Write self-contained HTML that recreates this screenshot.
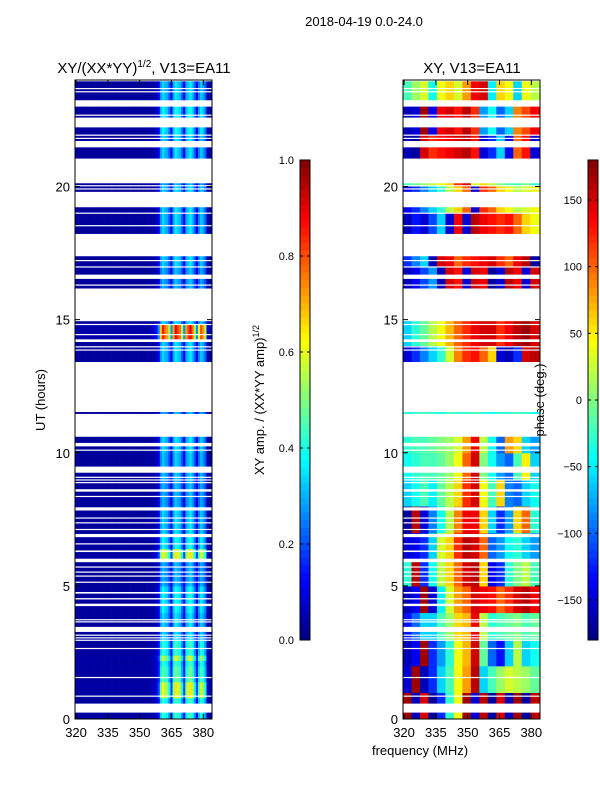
<!DOCTYPE html>
<html><head><meta charset="utf-8">
<style>
html,body{margin:0;padding:0;background:#fff;}
svg{display:block;font-family:"Liberation Sans","DejaVu Sans",sans-serif;}
</style></head>
<body>
<svg id="fig" width="600" height="800" viewBox="0 0 600 800" xmlns="http://www.w3.org/2000/svg">
<text x="364" y="26" font-size="13" text-anchor="middle">2018-04-19 0.0-24.0</text>
<text x="144" y="73" font-size="15" text-anchor="middle">XY/(XX*YY)<tspan font-size="10" dy="-6">1/2</tspan><tspan dy="6">, V13=EA11</tspan></text>
<text x="472" y="73" font-size="15" text-anchor="middle">XY, V13=EA11</text>
<text x="420" y="755" font-size="13" text-anchor="middle">frequency (MHz)</text>
<text transform="translate(45,400) rotate(-90)" font-size="13" text-anchor="middle">UT (hours)</text>
<text transform="translate(264,400) rotate(-90)" font-size="13" text-anchor="middle">XY amp. / (XX*YY amp)<tspan font-size="9" dy="-5">1/2</tspan></text>
<text transform="translate(544,400) rotate(-90)" font-size="13" text-anchor="middle">phase (deg.)</text>
<g id="left"></g>
<g id="right"></g>
<g id="cb"></g>
</svg>
<script>
// ---- data ----
const dataBands=[[0,0.24],[0.59,10.6],[11.47,11.53],[13.42,14.94],[16.18,17.38],[18.23,19.22],[19.81,20.12],[21.06,21.47],[21.72,22.22],[22.6,23.0],[23.25,23.95]];
const gapLines=[[10.24,10.37],[10.08,10.12],[9.25,9.48],[9.06,9.1],[8.96,9.0],[8.86,8.9],[8.54,8.63],[8.34,8.38],[7.83,7.95],[7.53,7.57],[7.35,7.39],[7.1,7.14],[6.83,6.95],[6.56,6.6],[6.27,6.33],[5.89,6.02],[5.69,5.73],[5.5,5.54],[5.35,5.39],[5.12,5.16],[4.71,4.77],[4.49,4.54],[4.24,4.33],[3.71,3.75],[3.63,3.67],[3.27,3.46],[3.13,3.17],[3.03,3.07],[2.94,2.98],[2.63,2.67],[1.54,1.58],[0.84,0.88],[23.66,23.7],[23.54,23.58],[22.66,22.7],[21.91,21.95],[21.79,21.83],[20.02,20.05],[19.9,19.93],[18.98,19.02],[18.51,18.55],[17.2,17.24],[16.96,17.0],[16.53,16.69],[16.28,16.32],[14.8,14.84],[14.42,14.46],[14.16,14.26],[13.96,14.0],[13.84,13.88]];
const freqs=[];for(let f=320;f<=384;f++)freqs.push(f);
const chanGain=[0.02,0.02,0.03,0.02,0.02,0.03,0.02,0.02,0.03,0.02,0.02,0.03,0.02,0.02,0.03,0.02,0.02,0.03,0.02,0.02,0.03,0.02,0.02,0.03,0.02,0.02,0.03,0.02,0.02,0.03,0.02,0.02,0.03,0.02,0.02,0.04,0.05,0.1,0.15,0.3,0.75,0.95,0.85,0.8,0.6,0.3,0.8,1.0,0.9,0.85,0.6,0.3,0.8,0.9,1.0,0.85,0.6,0.3,0.7,0.9,0.8,0.6,0.1,0.05,0.02];
const ampHourLevel=[0.45,0.5,0.45,0.36,0.4,0.32,0.4,0.36,0.32,0.34,0.36,0.32,0.32,0.36,0.36,0.32,0.32,0.36,0.36,0.36,0.32,0.36,0.4,0.36];
const hotBands=[[14.3,14.9,0.9],[6.05,6.3,0.65],[0.8,1.35,0.65],[2.1,2.3,0.6],[3.75,3.85,0.55]];
const phaseGrid=[
[170,-160,150,-170,-120,-30,40,170,-150,160,-170,150,-160,170,-170,160],
[-150,170,-160,-120,-60,-20,40,80,160,-60,-20,10,30,20,10,-10],
[-160,-140,170,-120,-80,-30,40,70,150,-10,-100,-130,-60,20,-60,-40],
[-130,-100,-60,-60,-20,10,60,70,140,20,-30,-20,-10,0,-20,-10],
[-160,-140,170,-150,-50,30,80,100,150,140,130,100,120,150,160,140],
[-30,160,-120,-40,20,60,100,150,160,60,-140,-120,-30,0,20,-20],
[-150,-140,-120,-60,30,60,120,160,150,100,-100,-80,-40,-30,-60,-80],
[-170,160,-150,-90,-40,20,90,140,140,60,-60,-120,-80,60,100,-30],
[-60,-40,-20,-50,-10,20,60,120,150,40,-20,60,-90,-100,-60,-40],
[-40,-30,-20,-20,-10,10,40,100,150,0,-40,-80,-100,-20,50,-60],
[-30,-20,-20,-10,0,10,30,80,140,20,-40,-100,80,60,-60,-80],
[-30,-30,-20,-30,-40,-20,-30,-30,-20,-30,-40,-30,-30,-20,-30,-40],
[0,0,0,0,0,0,0,0,0,0,0,0,0,0,0,0],
[-150,-120,-90,-60,-30,30,90,120,130,100,60,-150,-160,-120,150,160],
[-60,-30,-10,20,40,70,100,120,140,150,150,120,140,160,170,150],
[-60,-30,-10,20,40,70,100,120,140,150,150,120,140,160,170,150],
[-160,-140,-110,-80,-160,150,130,-150,150,140,-170,-150,160,140,-150,150],
[-120,-90,-60,-160,150,140,100,120,130,140,150,120,100,140,160,-170],
[-160,-130,-150,-110,-60,-150,140,-150,160,140,130,120,130,100,60,40],
[-140,-120,-90,-60,-30,20,60,100,-150,120,100,60,40,20,30,40],
[-20,-10,10,20,40,60,120,150,30,60,20,0,-20,-20,0,-30],
[-160,-170,150,120,130,140,150,160,130,-150,-120,-60,-140,100,130,-150],
[-160,-150,170,-140,140,150,130,160,120,-80,-40,-100,-60,90,110,140],
[-20,10,30,-40,40,60,30,80,140,150,-50,60,40,-60,40,20]];
const yTicks=[0,5,10,15,20];
const xTicks=[320,335,350,365,380];
const ampTicks=[0.0,0.2,0.4,0.6,0.8,1.0];
const phaseTicks=[-150,-100,-50,0,50,100,150];
// ---- helpers ----
const NS="http://www.w3.org/2000/svg";
function jet(v){v=Math.max(0,Math.min(1,v));const c=x=>Math.round(255*Math.max(0,Math.min(1,1.5-Math.abs(x))));return `rgb(${c(4*v-3)},${c(4*v-2)},${c(4*v-1)})`;}
const Y0=719,Y1=80,XMIN=319.5,XMAX=384.1,W=137;
const yS=h=>Y0-(h/24)*(Y0-Y1);
function xS(left,f){return left+(f-XMIN)/(XMAX-XMIN)*W;}
function mk(tag,attrs,parent){const e=document.createElementNS(NS,tag);for(const k in attrs)e.setAttribute(k,attrs[k]);parent.appendChild(e);return e;}
function ampValue(h,ci){let lvl=ampHourLevel[Math.min(23,Math.floor(h))];for(const b of hotBands){if(h>=b[0]&&h<b[1])lvl=b[2];}return chanGain[ci]*lvl+(chanGain[ci]<0.1?0.02:0);}
function phaseValue(h,ci){const r=phaseGrid[Math.min(23,Math.floor(h))];return r[Math.min(15,Math.floor((freqs[ci]-320)/4))];}
function drawPanel(g,left,valFn,norm,label){
  const step=0.2;
  for(const b of dataBands){
    for(let t=b[0];t<b[1]-1e-6;t+=step){
      const t2=Math.min(b[1],t+step);
      const ya=yS(t2),yb=yS(t);
      for(let ci=0;ci<freqs.length;ci++){
        const f=freqs[ci];
        const xa=xS(left,f-0.5),xb=Math.min(left+W,xS(left,f+0.5));
        if(xb<=left)continue;
        const v=valFn(t+step/2,ci);
        const r=mk('rect',{x:Math.max(left,xa).toFixed(2),y:ya.toFixed(2),width:(xb-Math.max(left,xa)+0.3).toFixed(2),height:(yb-ya+0.3).toFixed(2),fill:jet(norm(v))},g);
        
        
      }
    }
  }
  for(const gl of gapLines){
    const r=mk('rect',{x:left,y:yS(gl[1]).toFixed(2),width:W,height:Math.max(1.2,yS(gl[0])-yS(gl[1])).toFixed(2),fill:'#fff'},g);
    
    
  }
  const fr=mk('rect',{x:left,y:Y1,width:W,height:Y0-Y1,fill:'none',stroke:'#000','stroke-width':1},g);
  
  
  for(const t of yTicks){
    const y=yS(t);
    mk('line',{x1:left,x2:left+5,y1:y,y2:y,stroke:'#000'},g);
    mk('line',{x1:left+W,x2:left+W-5,y1:y,y2:y,stroke:'#000'},g);
    const tx=mk('text',{x:left-5,y:y+5,'font-size':13,'text-anchor':'end'},g);tx.textContent=t;
    
    
  }
  for(const t of xTicks){
    const x=xS(left,t);
    mk('line',{x1:x,x2:x,y1:Y0,y2:Y0-5,stroke:'#000'},g);
    mk('line',{x1:x,x2:x,y1:Y1,y2:Y1+5,stroke:'#000'},g);
    const tx=mk('text',{x:x,y:737,'font-size':13,'text-anchor':'middle'},g);tx.textContent=t;
    
    
  }
}
drawPanel(document.getElementById('left'),75,ampValue,v=>v,'amp');
drawPanel(document.getElementById('right'),403,phaseValue,v=>(v+180)/360,'phase');
// colorbars
function colorbar(x,ticks,vmin,vmax,label,fmt){
  const g=document.getElementById('cb');
  const top=160,bot=640,n=64;
  for(let i=0;i<n;i++){
    const r=mk('rect',{x:x,y:(bot-(i+1)*(bot-top)/n).toFixed(2),width:10,height:((bot-top)/n+0.4).toFixed(2),fill:jet((i+0.5)/n)},g);
    
    
  }
  const fr=mk('rect',{x:x,y:top,width:10,height:bot-top,fill:'none',stroke:'#000','stroke-width':1},g);
  
  
  for(const t of ticks){
    const y=bot-(t-vmin)/(vmax-vmin)*(bot-top);
    mk('line',{x1:x,x2:x+3,y1:y,y2:y,stroke:'#000'},g);
    mk('line',{x1:x+10,x2:x+7,y1:y,y2:y,stroke:'#000'},g);
    const tx=mk('text',{x:x-6,y:y+4,'font-size':11,'text-anchor':'end'},g);
    tx.textContent=fmt(t);
    
    
  }
}
colorbar(300,ampTicks,0,1,'amp',t=>t.toFixed(1));
colorbar(588,phaseTicks,-180,180,'phase',t=>t<0?'\u2212'+(-t):String(t));
</script>
</body></html>
